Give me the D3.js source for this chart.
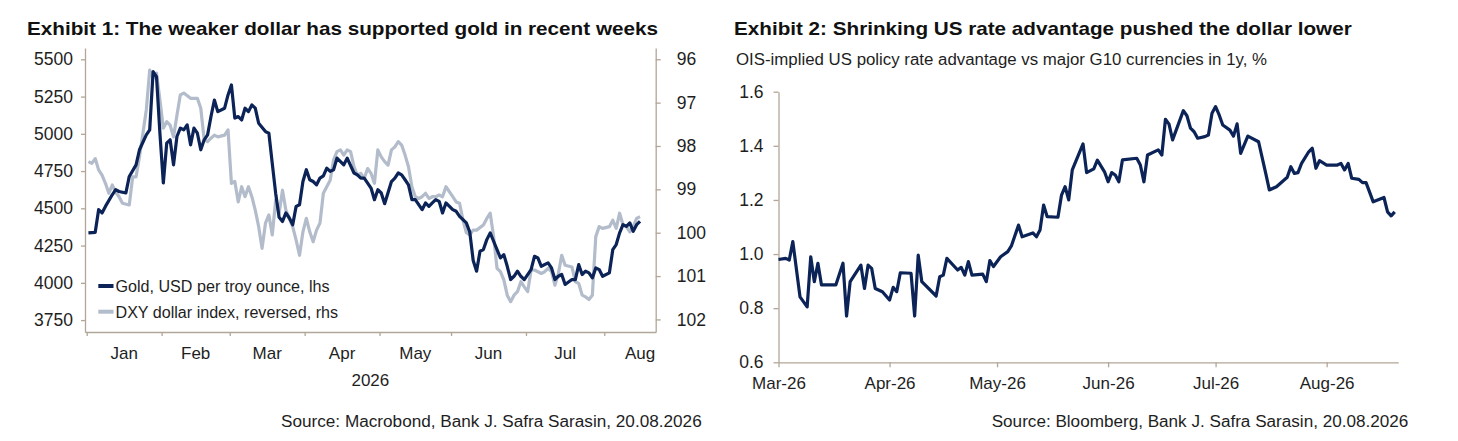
<!DOCTYPE html>
<html><head><meta charset="utf-8">
<script src="https://cdn.jsdelivr.net/npm/d3@7"></script>
<style>
html,body{margin:0;padding:0;background:#fff;}
svg{display:block;font-family:"Liberation Sans",Arial,sans-serif;}
</style></head><body>
<svg id="c" width="1458" height="441"></svg>
<script>
// ---------------- DATA ----------------
const YEAR = 2026;

// Exhibit 1: gold (lhs) and DXY reversed (rhs), business-day series
const goldDates = [
 "01-01","01-05","01-06","01-07","01-08","01-12","01-13","01-14","01-16","01-19","01-21","01-22","01-26","01-27","01-28","01-29","01-30",
 "02-02","02-03","02-04","02-05","02-06","02-09","02-10","02-11","02-12","02-13","02-16","02-17","02-18","02-19","02-20","02-23","02-24","02-26","02-27",
 "03-02","03-03","03-04","03-05","03-06","03-09","03-10","03-11","03-12","03-16","03-17","03-18","03-19","03-20","03-23","03-24","03-25","03-26","03-27","03-30","03-31",
 "04-01","04-02","04-03","04-06","04-07","04-08","04-09","04-10","04-13","04-14","04-16","04-17","04-21","04-22","04-23","04-24","04-28","04-29","04-30",
 "05-01","05-04","05-06","05-07","05-08","05-11","05-12","05-13","05-14","05-15","05-19","05-20","05-21","05-22","05-25","05-26","05-27","05-28",
 "06-01","06-02","06-03","06-05","06-08","06-09","06-10","06-11","06-12","06-15","06-16","06-17","06-18","06-19","06-22","06-23","06-24","06-25","06-26","06-29","06-30",
 "07-02","07-03","07-06","07-07","07-09","07-10","07-13","07-14","07-15","07-16","07-20","07-21","07-22","07-23","07-24","07-27","07-28","07-29","07-30","07-31",
 "08-04","08-05","08-06","08-07","08-10","08-11","08-12","08-13","08-14","08-17"];
const goldValues = [
 4335,4339,4491,4469,4513,4591,4625,4613,4603,4714,4792,4893,4993,5027,5417,5383,5004,
 4670,4937,4960,4792,4982,5038,5027,5060,4926,5038,5004,4893,4960,4993,5116,5227,5149,5172,5261,
 5328,5105,5116,5093,5172,5149,5194,5172,5071,5015,5004,4800,4600,4440,4412,4469,4435,4390,4513,4524,4680,
 4759,4692,4680,4658,4703,4718,4770,4748,4759,4837,4792,4837,4737,4725,4703,4703,4636,4558,4625,
 4603,4531,4680,4703,4737,4725,4692,4658,4558,4558,4491,4536,4513,4536,4558,4547,4469,4536,
 4491,4480,4446,4402,4340,4150,4078,4212,4223,4290,4335,4279,4223,4167,4189,4111,4022,4044,4078,4044,4022,
 4089,4178,4167,4111,4134,4100,4022,4044,4056,3989,4022,4022,4122,4056,4078,4067,4033,4100,4089,4044,
 4067,4223,4257,4335,4390,4379,4402,4346,4390,4412];

const dxyDates = [
 "01-01","01-02","01-05","01-06","01-07","01-08","01-09","01-12","01-13","01-14","01-15","01-19","01-20","01-21","01-22","01-23","01-26","01-27","01-28","01-29","01-30",
 "02-02","02-03","02-04","02-05","02-06","02-09","02-10","02-12","02-16","02-17","02-18","02-19","02-20","02-23","02-24","02-26","02-27",
 "03-02","03-03","03-04","03-05","03-06","03-09","03-10","03-11","03-12","03-13","03-16","03-17","03-18","03-19","03-20","03-23","03-24","03-26","03-27","03-30","03-31",
 "04-01","04-02","04-03","04-06","04-07","04-08","04-10","04-13","04-14","04-15","04-16","04-17","04-20","04-21","04-22","04-23","04-24","04-27","04-28","04-29","04-30",
 "05-01","05-04","05-05","05-06","05-07","05-08","05-11","05-12","05-13","05-14","05-15","05-18","05-19","05-20","05-21","05-22","05-25","05-26","05-27","05-28",
 "06-01","06-02","06-03","06-04","06-05","06-08","06-09","06-10","06-12","06-15","06-16","06-17","06-18","06-19","06-22","06-23","06-24","06-25","06-26","06-29","06-30",
 "07-01","07-02","07-03","07-07","07-08","07-09","07-10","07-13","07-14","07-15","07-16","07-20","07-21","07-22","07-23","07-24","07-27","07-28","07-29","07-30","07-31",
 "08-04","08-05","08-06","08-07","08-10","08-11","08-12","08-13","08-14","08-17"];
const dxyValues = [
 98.36,98.40,98.29,98.55,98.67,98.86,99.09,98.90,99.06,99.17,99.32,99.36,98.71,98.71,98.25,97.71,97.17,96.25,96.44,96.32,96.94,
 97.59,97.44,97.52,97.79,97.29,96.82,96.78,96.90,96.90,97.13,97.86,97.90,97.82,97.75,97.79,97.75,97.63,
 98.86,98.82,99.29,98.94,99.17,98.94,99.17,99.48,99.86,100.36,99.78,99.59,100.05,99.25,99.55,99.02,99.48,99.86,100.17,100.52,99.98,
 99.67,99.98,100.21,99.94,99.78,99.09,98.79,98.32,98.13,98.09,98.21,98.09,98.13,98.48,98.67,98.63,98.75,98.52,98.63,98.86,98.09,
 98.25,98.36,98.44,98.09,98.02,97.90,97.98,98.21,98.48,98.94,99.17,99.21,99.17,99.09,99.21,99.17,99.17,99.13,99.17,98.94,
 99.17,99.29,99.32,99.71,100.00,100.05,99.94,99.94,99.82,99.67,99.55,100.09,100.82,100.90,101.09,101.44,101.59,101.44,101.36,101.13,101.25,
 101.36,100.86,100.86,100.94,100.90,100.82,100.90,101.21,100.95,100.52,100.75,100.79,101.13,101.17,101.44,101.48,101.54,101.44,100.09,99.86,99.90,
 99.86,99.71,99.90,99.55,99.82,99.86,99.98,99.86,99.67,99.63];

const goldTicks = [3750,4000,4250,4500,4750,5000,5250,5500];
const dxyTicks = [96,97,98,99,100,101,102];
const monthLabels1 = ["Jan","Feb","Mar","Apr","May","Jun","Jul","Aug"];
const monthStarts1 = ["01-01","02-01","03-01","04-01","05-01","06-01","07-01","08-01","09-01"];

// Exhibit 2: OIS-implied US policy rate advantage, %
const oisDates = [
 "03-01","03-03","03-04","03-05","03-07","03-09","03-10","03-11","03-12","03-13","03-17","03-19","03-20","03-21","03-24","03-25","03-26","03-27","03-28","03-30",
 "04-01","04-02","04-03","04-04","04-07","04-08","04-09","04-10","04-14","04-15","04-16","04-17","04-20","04-21","04-22","04-23","04-24","04-27","04-28","04-29","04-30",
 "05-02","05-04","05-05","05-07","05-08","05-11","05-12","05-13","05-14","05-15","05-18","05-19","05-20","05-21","05-22","05-25","05-26","05-28","05-29","05-31",
 "06-01","06-02","06-03","06-04","06-05","06-09","06-10","06-11","06-12","06-15","06-16","06-17","06-18","06-19","06-22","06-23","06-24","06-25","06-26","06-28","06-29","06-30",
 "07-01","07-02","07-03","07-05","07-06","07-07","07-08","07-10","07-13","07-15","07-16","07-18","07-21","07-22","07-23","07-24","07-25","07-27","07-28","07-29","07-30",
 "08-01","08-04","08-05","08-06","08-07","08-08","08-10","08-11","08-12","08-14","08-17","08-18","08-19","08-20"];
const oisValues = [
 0.98,0.984,0.978,1.046,0.842,0.805,0.99,0.898,0.966,0.886,0.886,0.966,0.771,0.898,0.959,0.873,0.959,0.947,0.873,0.861,
 0.83,0.877,0.861,0.931,0.929,0.771,0.996,0.898,0.845,0.916,0.922,0.984,0.941,0.951,0.922,0.972,0.922,0.926,0.898,0.976,0.954,
 0.99,1.009,1.03,1.107,1.064,1.078,1.064,1.089,1.181,1.138,1.136,1.218,1.249,1.2,1.311,1.407,1.301,1.315,1.347,1.304,
 1.267,1.301,1.292,1.267,1.348,1.354,1.329,1.267,1.366,1.385,1.366,1.498,1.48,1.422,1.53,1.511,1.465,1.452,1.428,1.434,1.44,1.52,
 1.545,1.514,1.477,1.458,1.436,1.481,1.372,1.436,1.415,1.298,1.237,1.249,1.284,1.323,1.298,1.301,1.335,1.378,1.391,1.317,1.345,
 1.329,1.329,1.335,1.311,1.335,1.28,1.276,1.264,1.264,1.193,1.209,1.156,1.141,1.156];
const oisTicks = [0.6,0.8,1.0,1.2,1.4,1.6];
const oisMonthTicks = ["03-01","04-01","05-01","06-01","07-01","08-01"];

// ---------------- HELPERS ----------------
const parse = d3.utcParse("%Y-%m-%d");
const dt = s => parse(`${YEAR}-${s}`);
function bizIndex(s){            // business days elapsed since 1 Jan
  const end = dt(s).getTime();
  let n = 0;
  for (let t = Date.UTC(YEAR,0,1); t < end; t += 864e5){
    const w = new Date(t).getUTCDay();
    if (w !== 0 && w !== 6) n++;
  }
  return n;
}
const AXIS = "#b1a697", TXT = "#1e1e1e", NAVY = "#0b2357", GREY = "#b3bccb";
const svg = d3.select("#c");

function styleAxis(g, size){
  g.selectAll(".domain").attr("stroke", AXIS).attr("stroke-width", 1.3);
  g.selectAll(".tick line").attr("stroke", AXIS).attr("stroke-width", 1.3);
  g.selectAll(".tick text").attr("fill", TXT).style("font-size", size + "px")
   .style("font-family", '"Liberation Sans",Arial,sans-serif');
}

// ---------------- EXHIBIT 1 ----------------
const L = {left:85, right:655.7, top:48, bottom:332};
const xL = d3.scaleLinear().domain([-1, 166.6]).range([L.left, L.right]);
const yGold = d3.scaleLinear().domain([3670, 5576]).range([L.bottom, L.top]);
const yDxy = d3.scaleLinear().domain([95.74, 102.29]).range([L.top, L.bottom]);

svg.append("text").attr("x", 27).attr("y", 35).attr("fill", "#111")
  .style("font-weight", "bold").style("font-size", "18.5px")
  .attr("textLength", 631).attr("lengthAdjust", "spacingAndGlyphs")
  .text("Exhibit 1: The weaker dollar has supported gold in recent weeks");

svg.append("defs").append("clipPath").attr("id", "clipL").append("rect")
  .attr("x", L.left).attr("y", L.top - 5).attr("width", L.right - L.left).attr("height", L.bottom - L.top + 5);

const gl = svg.append("g").attr("transform", `translate(${L.left},0)`)
  .call(d3.axisLeft(yGold).tickValues(goldTicks).tickFormat(d3.format("d")).tickSize(4).tickPadding(8).tickSizeOuter(0));
styleAxis(gl, 17.5);
const gr = svg.append("g").attr("transform", `translate(${L.right},0)`)
  .call(d3.axisRight(yDxy).tickValues(dxyTicks).tickFormat(d3.format("d")).tickSize(5).tickPadding(16).tickSizeOuter(0));
styleAxis(gr, 17.5);

const startIdx = monthStarts1.map(bizIndex);
const gb = svg.append("g").attr("transform", `translate(0,${L.bottom})`)
  .call(d3.axisBottom(xL).tickValues(startIdx.slice(0, -1).map(i => i - 0.5)).tickFormat("").tickSize(4).tickSizeOuter(0));
styleAxis(gb, 17);

svg.append("g").selectAll("text").data(monthLabels1).join("text")
  .attr("x", (d, i) => xL((startIdx[i] + startIdx[i + 1]) / 2 - 0.5))
  .attr("y", 358.5).attr("text-anchor", "middle").attr("fill", TXT)
  .style("font-size", "17px").text(d => d);
svg.append("text").attr("x", (L.left + L.right) / 2).attr("y", 386).attr("text-anchor", "middle")
  .attr("fill", TXT).style("font-size", "17px").text(String(YEAR));

const dxyData = dxyDates.map((d, i) => ({i: bizIndex(d), v: dxyValues[i]}));
const goldData = goldDates.map((d, i) => ({i: bizIndex(d), v: goldValues[i]}));
const plotL = svg.append("g").attr("clip-path", "url(#clipL)");
plotL.append("path").datum(dxyData).attr("fill", "none").attr("stroke", GREY).attr("stroke-width", 3.2)
  .attr("stroke-linejoin", "round")
  .attr("d", d3.line().x(d => xL(d.i)).y(d => yDxy(d.v)));
plotL.append("path").datum(goldData).attr("fill", "none").attr("stroke", NAVY).attr("stroke-width", 3.2)
  .attr("stroke-linejoin", "round")
  .attr("d", d3.line().x(d => xL(d.i)).y(d => yGold(d.v)));

// legend
const legend = [
  {label: "Gold, USD per troy ounce, lhs", color: NAVY, y: 286, len: 214},
  {label: "DXY dollar index, reversed, rhs", color: GREY, y: 311.7, len: 222.5}
];
const lg = svg.append("g");
lg.selectAll("line").data(legend).join("line")
  .attr("x1", 98.3).attr("x2", 113.5).attr("y1", d => d.y).attr("y2", d => d.y)
  .attr("stroke", d => d.color).attr("stroke-width", 4);
lg.selectAll("text").data(legend).join("text")
  .attr("x", 115.5).attr("y", d => d.y + 5.8).attr("fill", TXT).style("font-size", "16px")
  .attr("textLength", d => d.len).attr("lengthAdjust", "spacingAndGlyphs").text(d => d.label);

svg.append("text").attr("x", 281).attr("y", 426.5).attr("fill", TXT).style("font-size", "16px")
  .attr("textLength", 420.7).attr("lengthAdjust", "spacingAndGlyphs")
  .text("Source: Macrobond, Bank J. Safra Sarasin, 20.08.2026");

// ---------------- EXHIBIT 2 ----------------
const R = {left:778.5, right:1398.3, top:91.7, bottom:362.3};
const xR = d3.scaleUtc().domain([dt("03-01"), dt("08-21")]).range([R.left, R.right]);
const yR = d3.scaleLinear().domain([0.6, 1.6]).range([R.bottom, R.top]);

svg.append("text").attr("x", 734).attr("y", 35).attr("fill", "#111")
  .style("font-weight", "bold").style("font-size", "18.5px")
  .attr("textLength", 617.7).attr("lengthAdjust", "spacingAndGlyphs")
  .text("Exhibit 2: Shrinking US rate advantage pushed the dollar lower");
svg.append("text").attr("x", 736).attr("y", 65).attr("fill", TXT).style("font-size", "16px")
  .attr("textLength", 531).attr("lengthAdjust", "spacingAndGlyphs")
  .text("OIS-implied US policy rate advantage vs major G10 currencies in 1y, %");

const gy2 = svg.append("g").attr("transform", `translate(${R.left},0)`)
  .call(d3.axisLeft(yR).tickValues(oisTicks).tickFormat(d3.format(".1f")).tickSize(5).tickPadding(10).tickSizeOuter(0));
styleAxis(gy2, 17.5);
const gx2 = svg.append("g").attr("transform", `translate(0,${R.bottom})`)
  .call(d3.axisBottom(xR).tickValues(oisMonthTicks.map(dt)).tickFormat(d3.utcFormat("%b-%y")).tickSize(5).tickPadding(10).tickSizeOuter(0));
styleAxis(gx2, 17);

const oisData = oisDates.map((d, i) => ({d: dt(d), v: oisValues[i]}));
svg.append("path").datum(oisData).attr("fill", "none").attr("stroke", NAVY).attr("stroke-width", 3.2)
  .attr("stroke-linejoin", "round")
  .attr("d", d3.line().x(d => xR(d.d)).y(d => yR(d.v)));

svg.append("text").attr("x", 991.7).attr("y", 426.5).attr("fill", TXT).style("font-size", "16px")
  .attr("textLength", 416.6).attr("lengthAdjust", "spacingAndGlyphs")
  .text("Source: Bloomberg, Bank J. Safra Sarasin, 20.08.2026");
</script>
</body></html>
